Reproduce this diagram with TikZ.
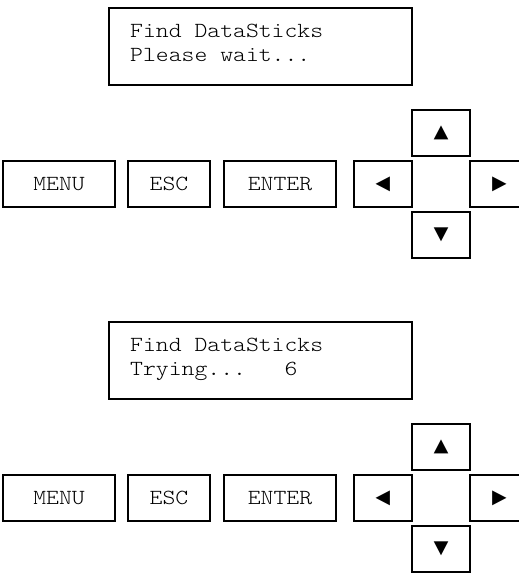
\documentclass[tikz,border=0pt]{standalone}
\usepackage{fontspec}
\newfontfamily\lcdfont[FakeStretch=1.14]{lmmonolt10-regular.otf}
\newfontfamily\symfont{Liberation Mono}
\begin{document}
\begin{tikzpicture}[x=1pt,y=-1pt,
  key/.style={draw=black,line width=1.4pt,rectangle,inner sep=0pt,minimum height=46pt,font=\lcdfont\fontsize{21.5}{24}\selectfont},
  arrowkey/.style={key,minimum width=58pt,font=\symfont\fontsize{25}{28}\selectfont},
  lcd/.style={draw=black,line width=1.4pt,rectangle,inner sep=0pt,minimum width=303pt,minimum height=77pt},
  lcdtext/.style={anchor=base west,inner sep=0pt,font=\lcdfont\fontsize{21.5}{24}\selectfont}]
\useasboundingbox (0,0) rectangle (519,573);
\clip (0,0) rectangle (519,573);
\foreach \i/\dy/\second in {1/0/{Please wait...}, 2/314/{Trying...\ \ \ 6}} {
  \begin{scope}[yshift=-\dy pt]
    \node[lcd] (disp\i) at (260.5,46.5) {};
    \node[lcdtext] (lineA\i) at (130,37) {Find DataSticks};
    \node[lcdtext] (lineB\i) at (130,61) {\second};
    \node[key,minimum width=112pt] (menu\i) at (59,184) {MENU};
    \node[key,minimum width=82pt] (esc\i) at (169,184) {ESC};
    \node[key,minimum width=112pt] (enter\i) at (280,184) {ENTER};
    \node[arrowkey] (left\i) at (383,184) {◄};
    \node[arrowkey] (up\i) at (441,133) {▲};
    \node[arrowkey] (right\i) at (499,184) {►};
    \node[arrowkey] (down\i) at (441,235) {▼};
  \end{scope}
}
\end{tikzpicture}
\end{document}
